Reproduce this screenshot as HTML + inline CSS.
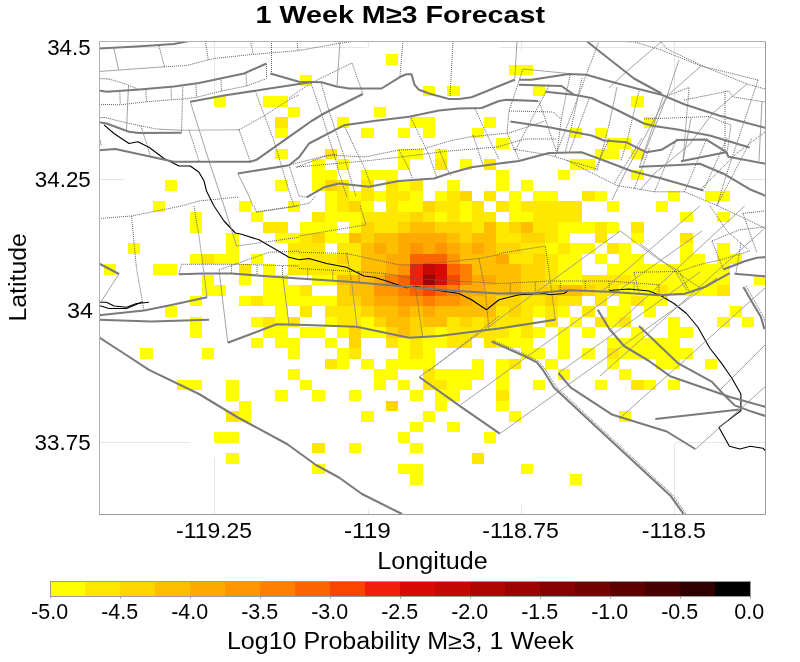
<!DOCTYPE html>
<html><head><meta charset="utf-8"><title>1 Week M&ge;3 Forecast</title>
<style>
html,body{margin:0;padding:0;background:#fff;}
body{width:800px;height:662px;overflow:hidden;font-family:"Liberation Sans",sans-serif;}
svg{display:block;position:absolute;left:0;top:0;}
text{font-family:"Liberation Sans",sans-serif;fill:#000;}
.thick{fill:none;stroke:#7a7a7a;stroke-width:2.05;stroke-linejoin:round;stroke-linecap:butt;}
.thin{fill:none;stroke:#8c8c8c;stroke-width:0.8;}
.dotted{fill:none;stroke:#606060;stroke-width:1;stroke-dasharray:1 1;}
.coast{fill:none;stroke:#000;stroke-width:1.1;stroke-linejoin:round;}
.grid{stroke:#e6e6e6;stroke-width:1;}
</style></head><body>
<svg width="800" height="662" viewBox="0 0 800 662">
<rect x="0" y="0" width="800" height="662" fill="#ffffff"/>
<defs><clipPath id="pc"><rect x="99" y="41" width="667" height="474"/></clipPath></defs>
<g clip-path="url(#pc)">
<g class="grid">
<line x1="99" y1="47.5" x2="766" y2="47.5"/><line x1="99" y1="179.5" x2="766" y2="179.5"/><line x1="99" y1="310.5" x2="766" y2="310.5"/><line x1="99" y1="442.5" x2="766" y2="442.5"/>
<line x1="214.5" y1="41" x2="214.5" y2="515"/><line x1="368.5" y1="41" x2="368.5" y2="515"/><line x1="521.5" y1="41" x2="521.5" y2="515"/><line x1="674.5" y1="41" x2="674.5" y2="515"/>
<ellipse cx="433.1" cy="278" rx="339.5" ry="235" fill="#fff" stroke="none"/>

</g>
<g shape-rendering="crispEdges">
<rect x="385.93" y="54.00" width="12.27" height="10.50" fill="#ffff00"/>
<rect x="508.65" y="64.50" width="24.54" height="10.50" fill="#ffff00"/>
<rect x="300.02" y="75.00" width="12.27" height="10.50" fill="#ffff00"/>
<rect x="422.74" y="85.50" width="12.27" height="10.50" fill="#ffff00"/>
<rect x="447.29" y="85.50" width="12.27" height="10.50" fill="#ffff00"/>
<rect x="533.19" y="85.50" width="12.27" height="10.50" fill="#ffff00"/>
<rect x="214.12" y="96.00" width="12.27" height="10.50" fill="#ffff00"/>
<rect x="263.21" y="96.00" width="24.54" height="10.50" fill="#ffff00"/>
<rect x="631.37" y="96.00" width="12.27" height="10.50" fill="#ffff00"/>
<rect x="287.75" y="106.50" width="12.27" height="10.50" fill="#ffff00"/>
<rect x="373.66" y="106.50" width="12.27" height="10.50" fill="#ffff00"/>
<rect x="275.48" y="117.00" width="12.27" height="10.50" fill="#ffe800"/>
<rect x="336.84" y="117.00" width="12.27" height="10.50" fill="#ffff00"/>
<rect x="410.47" y="117.00" width="24.54" height="10.50" fill="#ffff00"/>
<rect x="484.10" y="117.00" width="12.27" height="10.50" fill="#ffff00"/>
<rect x="643.64" y="117.00" width="12.27" height="10.50" fill="#ffff00"/>
<rect x="275.48" y="127.50" width="12.27" height="10.50" fill="#ffff00"/>
<rect x="361.38" y="127.50" width="12.27" height="10.50" fill="#ffff00"/>
<rect x="398.20" y="127.50" width="12.27" height="10.50" fill="#ffff00"/>
<rect x="422.74" y="127.50" width="12.27" height="10.50" fill="#ffff00"/>
<rect x="471.83" y="127.50" width="12.27" height="10.50" fill="#ffff00"/>
<rect x="570.01" y="127.50" width="12.27" height="10.50" fill="#ffff00"/>
<rect x="594.55" y="127.50" width="12.27" height="10.50" fill="#ffff00"/>
<rect x="496.38" y="138.00" width="12.27" height="10.50" fill="#ffff00"/>
<rect x="606.82" y="138.00" width="24.54" height="10.50" fill="#ffff00"/>
<rect x="275.48" y="148.50" width="12.27" height="10.50" fill="#ffff00"/>
<rect x="324.57" y="148.50" width="12.27" height="10.50" fill="#ffe800"/>
<rect x="398.20" y="148.50" width="24.54" height="10.50" fill="#ffff00"/>
<rect x="435.02" y="148.50" width="12.27" height="10.50" fill="#ffff00"/>
<rect x="594.55" y="148.50" width="24.54" height="10.50" fill="#ffff00"/>
<rect x="631.37" y="148.50" width="12.27" height="10.50" fill="#ffff00"/>
<rect x="312.30" y="159.00" width="12.27" height="10.50" fill="#ffff00"/>
<rect x="336.84" y="159.00" width="12.27" height="10.50" fill="#ffff00"/>
<rect x="398.20" y="159.00" width="12.27" height="10.50" fill="#ffff00"/>
<rect x="435.02" y="159.00" width="12.27" height="10.50" fill="#ffe800"/>
<rect x="459.56" y="159.00" width="12.27" height="10.50" fill="#ffff00"/>
<rect x="484.10" y="159.00" width="12.27" height="10.50" fill="#ffe800"/>
<rect x="570.01" y="159.00" width="24.54" height="10.50" fill="#ffff00"/>
<rect x="312.30" y="169.50" width="24.54" height="10.50" fill="#ffff00"/>
<rect x="361.38" y="169.50" width="36.82" height="10.50" fill="#ffff00"/>
<rect x="496.38" y="169.50" width="12.27" height="10.50" fill="#ffff00"/>
<rect x="557.74" y="169.50" width="12.27" height="10.50" fill="#ffff00"/>
<rect x="631.37" y="169.50" width="12.27" height="10.50" fill="#ffff00"/>
<rect x="165.03" y="180.00" width="12.27" height="10.50" fill="#ffff00"/>
<rect x="275.48" y="180.00" width="12.27" height="10.50" fill="#ffff00"/>
<rect x="312.30" y="180.00" width="12.27" height="10.50" fill="#ffff00"/>
<rect x="324.57" y="180.00" width="12.27" height="10.50" fill="#ffd500"/>
<rect x="336.84" y="180.00" width="12.27" height="10.50" fill="#ffe800"/>
<rect x="361.38" y="180.00" width="12.27" height="10.50" fill="#ffe800"/>
<rect x="385.93" y="180.00" width="12.27" height="10.50" fill="#ffe800"/>
<rect x="398.20" y="180.00" width="12.27" height="10.50" fill="#ffff00"/>
<rect x="410.47" y="180.00" width="12.27" height="10.50" fill="#ffe800"/>
<rect x="447.29" y="180.00" width="12.27" height="10.50" fill="#ffff00"/>
<rect x="496.38" y="180.00" width="12.27" height="10.50" fill="#ffff00"/>
<rect x="520.92" y="180.00" width="12.27" height="10.50" fill="#ffff00"/>
<rect x="324.57" y="190.50" width="12.27" height="10.50" fill="#ffff00"/>
<rect x="336.84" y="190.50" width="12.27" height="10.50" fill="#ffe800"/>
<rect x="349.11" y="190.50" width="12.27" height="10.50" fill="#ffff00"/>
<rect x="361.38" y="190.50" width="12.27" height="10.50" fill="#ffe800"/>
<rect x="373.66" y="190.50" width="12.27" height="10.50" fill="#ffff00"/>
<rect x="385.93" y="190.50" width="24.54" height="10.50" fill="#ffe800"/>
<rect x="410.47" y="190.50" width="12.27" height="10.50" fill="#ffff00"/>
<rect x="435.02" y="190.50" width="12.27" height="10.50" fill="#ffff00"/>
<rect x="447.29" y="190.50" width="12.27" height="10.50" fill="#ffe800"/>
<rect x="459.56" y="190.50" width="12.27" height="10.50" fill="#ffd500"/>
<rect x="484.10" y="190.50" width="12.27" height="10.50" fill="#ffe800"/>
<rect x="508.65" y="190.50" width="12.27" height="10.50" fill="#ffff00"/>
<rect x="533.19" y="190.50" width="24.54" height="10.50" fill="#ffff00"/>
<rect x="582.28" y="190.50" width="12.27" height="10.50" fill="#ffe800"/>
<rect x="594.55" y="190.50" width="12.27" height="10.50" fill="#ffff00"/>
<rect x="668.18" y="190.50" width="12.27" height="10.50" fill="#ffff00"/>
<rect x="705.00" y="190.50" width="24.54" height="10.50" fill="#ffff00"/>
<rect x="152.76" y="201.00" width="12.27" height="10.50" fill="#ffff00"/>
<rect x="238.66" y="201.00" width="12.27" height="10.50" fill="#ffff00"/>
<rect x="287.75" y="201.00" width="12.27" height="10.50" fill="#ffff00"/>
<rect x="324.57" y="201.00" width="12.27" height="10.50" fill="#ffff00"/>
<rect x="336.84" y="201.00" width="12.27" height="10.50" fill="#ffe800"/>
<rect x="349.11" y="201.00" width="12.27" height="10.50" fill="#ffd500"/>
<rect x="361.38" y="201.00" width="12.27" height="10.50" fill="#ffff00"/>
<rect x="385.93" y="201.00" width="12.27" height="10.50" fill="#ffe800"/>
<rect x="398.20" y="201.00" width="24.54" height="10.50" fill="#ffff00"/>
<rect x="422.74" y="201.00" width="12.27" height="10.50" fill="#ffd500"/>
<rect x="435.02" y="201.00" width="24.54" height="10.50" fill="#ffe800"/>
<rect x="459.56" y="201.00" width="12.27" height="10.50" fill="#ffff00"/>
<rect x="471.83" y="201.00" width="12.27" height="10.50" fill="#ffe800"/>
<rect x="496.38" y="201.00" width="12.27" height="10.50" fill="#ffe800"/>
<rect x="508.65" y="201.00" width="12.27" height="10.50" fill="#ffff00"/>
<rect x="520.92" y="201.00" width="61.36" height="10.50" fill="#ffe800"/>
<rect x="606.82" y="201.00" width="12.27" height="10.50" fill="#ffff00"/>
<rect x="655.91" y="201.00" width="12.27" height="10.50" fill="#ffff00"/>
<rect x="189.58" y="211.50" width="12.27" height="10.50" fill="#ffff00"/>
<rect x="250.94" y="211.50" width="12.27" height="10.50" fill="#ffff00"/>
<rect x="312.30" y="211.50" width="12.27" height="10.50" fill="#ffe800"/>
<rect x="324.57" y="211.50" width="36.82" height="10.50" fill="#ffff00"/>
<rect x="361.38" y="211.50" width="49.09" height="10.50" fill="#ffe800"/>
<rect x="410.47" y="211.50" width="12.27" height="10.50" fill="#ffd500"/>
<rect x="422.74" y="211.50" width="12.27" height="10.50" fill="#ffe800"/>
<rect x="435.02" y="211.50" width="12.27" height="10.50" fill="#ffff00"/>
<rect x="447.29" y="211.50" width="12.27" height="10.50" fill="#ffe800"/>
<rect x="459.56" y="211.50" width="12.27" height="10.50" fill="#ffff00"/>
<rect x="471.83" y="211.50" width="24.54" height="10.50" fill="#ffe800"/>
<rect x="508.65" y="211.50" width="24.54" height="10.50" fill="#ffff00"/>
<rect x="533.19" y="211.50" width="49.09" height="10.50" fill="#ffe800"/>
<rect x="680.46" y="211.50" width="12.27" height="10.50" fill="#ffff00"/>
<rect x="717.27" y="211.50" width="12.27" height="10.50" fill="#ffff00"/>
<rect x="189.58" y="222.00" width="12.27" height="10.50" fill="#ffff00"/>
<rect x="263.21" y="222.00" width="24.54" height="10.50" fill="#ffe800"/>
<rect x="300.02" y="222.00" width="36.82" height="10.50" fill="#ffff00"/>
<rect x="349.11" y="222.00" width="12.27" height="10.50" fill="#ffff00"/>
<rect x="361.38" y="222.00" width="12.27" height="10.50" fill="#ffd500"/>
<rect x="373.66" y="222.00" width="24.54" height="10.50" fill="#ffe800"/>
<rect x="398.20" y="222.00" width="12.27" height="10.50" fill="#ffd500"/>
<rect x="410.47" y="222.00" width="24.54" height="10.50" fill="#ffbf00"/>
<rect x="435.02" y="222.00" width="36.82" height="10.50" fill="#ffd500"/>
<rect x="471.83" y="222.00" width="12.27" height="10.50" fill="#ffe800"/>
<rect x="484.10" y="222.00" width="12.27" height="10.50" fill="#ffbf00"/>
<rect x="496.38" y="222.00" width="12.27" height="10.50" fill="#ffe800"/>
<rect x="508.65" y="222.00" width="12.27" height="10.50" fill="#ffd500"/>
<rect x="520.92" y="222.00" width="12.27" height="10.50" fill="#ffbf00"/>
<rect x="533.19" y="222.00" width="24.54" height="10.50" fill="#ffe800"/>
<rect x="557.74" y="222.00" width="36.82" height="10.50" fill="#ffff00"/>
<rect x="594.55" y="222.00" width="12.27" height="10.50" fill="#ffe800"/>
<rect x="606.82" y="222.00" width="12.27" height="10.50" fill="#ffff00"/>
<rect x="631.37" y="222.00" width="12.27" height="10.50" fill="#ffe800"/>
<rect x="226.39" y="232.50" width="12.27" height="10.50" fill="#ffff00"/>
<rect x="275.48" y="232.50" width="24.54" height="10.50" fill="#ffff00"/>
<rect x="300.02" y="232.50" width="12.27" height="10.50" fill="#ffe800"/>
<rect x="312.30" y="232.50" width="12.27" height="10.50" fill="#ffd500"/>
<rect x="324.57" y="232.50" width="24.54" height="10.50" fill="#ffff00"/>
<rect x="349.11" y="232.50" width="12.27" height="10.50" fill="#ffbf00"/>
<rect x="361.38" y="232.50" width="12.27" height="10.50" fill="#ffd500"/>
<rect x="373.66" y="232.50" width="24.54" height="10.50" fill="#ffbf00"/>
<rect x="398.20" y="232.50" width="49.09" height="10.50" fill="#ffaa00"/>
<rect x="447.29" y="232.50" width="12.27" height="10.50" fill="#ffbf00"/>
<rect x="459.56" y="232.50" width="12.27" height="10.50" fill="#ffd500"/>
<rect x="471.83" y="232.50" width="24.54" height="10.50" fill="#ffbf00"/>
<rect x="496.38" y="232.50" width="24.54" height="10.50" fill="#ffe800"/>
<rect x="520.92" y="232.50" width="24.54" height="10.50" fill="#ffd500"/>
<rect x="545.46" y="232.50" width="12.27" height="10.50" fill="#ffe800"/>
<rect x="557.74" y="232.50" width="12.27" height="10.50" fill="#ffff00"/>
<rect x="594.55" y="232.50" width="12.27" height="10.50" fill="#ffe800"/>
<rect x="631.37" y="232.50" width="12.27" height="10.50" fill="#ffff00"/>
<rect x="680.46" y="232.50" width="12.27" height="10.50" fill="#ffe800"/>
<rect x="128.22" y="243.00" width="12.27" height="10.50" fill="#ffff00"/>
<rect x="226.39" y="243.00" width="12.27" height="10.50" fill="#ffff00"/>
<rect x="287.75" y="243.00" width="36.82" height="10.50" fill="#ffe800"/>
<rect x="336.84" y="243.00" width="24.54" height="10.50" fill="#ffe800"/>
<rect x="361.38" y="243.00" width="12.27" height="10.50" fill="#ffbf00"/>
<rect x="373.66" y="243.00" width="12.27" height="10.50" fill="#ffaa00"/>
<rect x="385.93" y="243.00" width="12.27" height="10.50" fill="#ffbf00"/>
<rect x="398.20" y="243.00" width="12.27" height="10.50" fill="#ffaa00"/>
<rect x="410.47" y="243.00" width="12.27" height="10.50" fill="#ff9500"/>
<rect x="422.74" y="243.00" width="12.27" height="10.50" fill="#ffaa00"/>
<rect x="435.02" y="243.00" width="12.27" height="10.50" fill="#ff9500"/>
<rect x="447.29" y="243.00" width="12.27" height="10.50" fill="#ffaa00"/>
<rect x="459.56" y="243.00" width="12.27" height="10.50" fill="#ffbf00"/>
<rect x="471.83" y="243.00" width="12.27" height="10.50" fill="#ffaa00"/>
<rect x="484.10" y="243.00" width="12.27" height="10.50" fill="#ffbf00"/>
<rect x="496.38" y="243.00" width="24.54" height="10.50" fill="#ffd500"/>
<rect x="520.92" y="243.00" width="24.54" height="10.50" fill="#ffe800"/>
<rect x="545.46" y="243.00" width="12.27" height="10.50" fill="#ffff00"/>
<rect x="557.74" y="243.00" width="12.27" height="10.50" fill="#ffe800"/>
<rect x="570.01" y="243.00" width="24.54" height="10.50" fill="#ffff00"/>
<rect x="606.82" y="243.00" width="12.27" height="10.50" fill="#ffe800"/>
<rect x="619.10" y="243.00" width="12.27" height="10.50" fill="#ffff00"/>
<rect x="680.46" y="243.00" width="12.27" height="10.50" fill="#ffff00"/>
<rect x="717.27" y="243.00" width="12.27" height="10.50" fill="#ffff00"/>
<rect x="189.58" y="253.50" width="12.27" height="10.50" fill="#ffff00"/>
<rect x="201.85" y="253.50" width="12.27" height="10.50" fill="#ffe800"/>
<rect x="214.12" y="253.50" width="24.54" height="10.50" fill="#ffff00"/>
<rect x="250.94" y="253.50" width="12.27" height="10.50" fill="#ffff00"/>
<rect x="287.75" y="253.50" width="12.27" height="10.50" fill="#ffff00"/>
<rect x="300.02" y="253.50" width="36.82" height="10.50" fill="#ffe800"/>
<rect x="336.84" y="253.50" width="12.27" height="10.50" fill="#ffd500"/>
<rect x="349.11" y="253.50" width="12.27" height="10.50" fill="#ffe800"/>
<rect x="361.38" y="253.50" width="24.54" height="10.50" fill="#ffbf00"/>
<rect x="385.93" y="253.50" width="24.54" height="10.50" fill="#ffaa00"/>
<rect x="410.47" y="253.50" width="36.82" height="10.50" fill="#fc6400"/>
<rect x="447.29" y="253.50" width="12.27" height="10.50" fill="#ff9500"/>
<rect x="459.56" y="253.50" width="36.82" height="10.50" fill="#ffbf00"/>
<rect x="496.38" y="253.50" width="12.27" height="10.50" fill="#ffaa00"/>
<rect x="508.65" y="253.50" width="24.54" height="10.50" fill="#ffe800"/>
<rect x="533.19" y="253.50" width="12.27" height="10.50" fill="#ffd500"/>
<rect x="545.46" y="253.50" width="12.27" height="10.50" fill="#ffe800"/>
<rect x="557.74" y="253.50" width="24.54" height="10.50" fill="#ffff00"/>
<rect x="594.55" y="253.50" width="12.27" height="10.50" fill="#ffff00"/>
<rect x="619.10" y="253.50" width="24.54" height="10.50" fill="#ffff00"/>
<rect x="680.46" y="253.50" width="24.54" height="10.50" fill="#ffff00"/>
<rect x="717.27" y="253.50" width="24.54" height="10.50" fill="#ffff00"/>
<rect x="103.67" y="264.00" width="12.27" height="10.50" fill="#ffff00"/>
<rect x="152.76" y="264.00" width="24.54" height="10.50" fill="#ffff00"/>
<rect x="238.66" y="264.00" width="12.27" height="10.50" fill="#ffe800"/>
<rect x="263.21" y="264.00" width="12.27" height="10.50" fill="#ffff00"/>
<rect x="287.75" y="264.00" width="73.63" height="10.50" fill="#ffe800"/>
<rect x="361.38" y="264.00" width="24.54" height="10.50" fill="#ffbf00"/>
<rect x="385.93" y="264.00" width="12.27" height="10.50" fill="#ffaa00"/>
<rect x="398.20" y="264.00" width="12.27" height="10.50" fill="#ff9500"/>
<rect x="410.47" y="264.00" width="12.27" height="10.50" fill="#f01e0a"/>
<rect x="422.74" y="264.00" width="12.27" height="10.50" fill="#c40804"/>
<rect x="435.02" y="264.00" width="12.27" height="10.50" fill="#d70a05"/>
<rect x="447.29" y="264.00" width="12.27" height="10.50" fill="#fc6400"/>
<rect x="459.56" y="264.00" width="12.27" height="10.50" fill="#ff8000"/>
<rect x="471.83" y="264.00" width="49.09" height="10.50" fill="#ffbf00"/>
<rect x="520.92" y="264.00" width="24.54" height="10.50" fill="#ffd500"/>
<rect x="545.46" y="264.00" width="12.27" height="10.50" fill="#ffe800"/>
<rect x="557.74" y="264.00" width="24.54" height="10.50" fill="#ffff00"/>
<rect x="606.82" y="264.00" width="122.72" height="10.50" fill="#ffff00"/>
<rect x="201.85" y="274.50" width="12.27" height="10.50" fill="#ffff00"/>
<rect x="238.66" y="274.50" width="12.27" height="10.50" fill="#ffff00"/>
<rect x="263.21" y="274.50" width="24.54" height="10.50" fill="#ffff00"/>
<rect x="312.30" y="274.50" width="24.54" height="10.50" fill="#ffff00"/>
<rect x="336.84" y="274.50" width="36.82" height="10.50" fill="#ffbf00"/>
<rect x="373.66" y="274.50" width="12.27" height="10.50" fill="#ffaa00"/>
<rect x="385.93" y="274.50" width="12.27" height="10.50" fill="#ff8000"/>
<rect x="398.20" y="274.50" width="12.27" height="10.50" fill="#fc6400"/>
<rect x="410.47" y="274.50" width="12.27" height="10.50" fill="#f01e0a"/>
<rect x="422.74" y="274.50" width="12.27" height="10.50" fill="#9c0402"/>
<rect x="435.02" y="274.50" width="12.27" height="10.50" fill="#d70a05"/>
<rect x="447.29" y="274.50" width="12.27" height="10.50" fill="#f84600"/>
<rect x="459.56" y="274.50" width="12.27" height="10.50" fill="#ff8000"/>
<rect x="471.83" y="274.50" width="24.54" height="10.50" fill="#ffaa00"/>
<rect x="496.38" y="274.50" width="24.54" height="10.50" fill="#ffbf00"/>
<rect x="520.92" y="274.50" width="24.54" height="10.50" fill="#ffd500"/>
<rect x="545.46" y="274.50" width="12.27" height="10.50" fill="#ffe800"/>
<rect x="557.74" y="274.50" width="24.54" height="10.50" fill="#ffff00"/>
<rect x="582.28" y="274.50" width="49.09" height="10.50" fill="#ffe800"/>
<rect x="631.37" y="274.50" width="98.18" height="10.50" fill="#ffff00"/>
<rect x="754.09" y="274.50" width="12.27" height="10.50" fill="#ffff00"/>
<rect x="201.85" y="285.00" width="24.54" height="10.50" fill="#ffff00"/>
<rect x="263.21" y="285.00" width="36.82" height="10.50" fill="#ffff00"/>
<rect x="300.02" y="285.00" width="12.27" height="10.50" fill="#ffe800"/>
<rect x="336.84" y="285.00" width="12.27" height="10.50" fill="#ffd500"/>
<rect x="349.11" y="285.00" width="24.54" height="10.50" fill="#ffbf00"/>
<rect x="373.66" y="285.00" width="24.54" height="10.50" fill="#ff9500"/>
<rect x="398.20" y="285.00" width="12.27" height="10.50" fill="#ff8000"/>
<rect x="410.47" y="285.00" width="12.27" height="10.50" fill="#fc6400"/>
<rect x="422.74" y="285.00" width="12.27" height="10.50" fill="#f84600"/>
<rect x="435.02" y="285.00" width="12.27" height="10.50" fill="#fc6400"/>
<rect x="447.29" y="285.00" width="12.27" height="10.50" fill="#ff8000"/>
<rect x="459.56" y="285.00" width="24.54" height="10.50" fill="#ffaa00"/>
<rect x="484.10" y="285.00" width="36.82" height="10.50" fill="#ffbf00"/>
<rect x="520.92" y="285.00" width="36.82" height="10.50" fill="#ffd500"/>
<rect x="557.74" y="285.00" width="24.54" height="10.50" fill="#ffbf00"/>
<rect x="582.28" y="285.00" width="12.27" height="10.50" fill="#ffd500"/>
<rect x="594.55" y="285.00" width="24.54" height="10.50" fill="#ffe800"/>
<rect x="619.10" y="285.00" width="36.82" height="10.50" fill="#ffff00"/>
<rect x="655.91" y="285.00" width="12.27" height="10.50" fill="#ffe800"/>
<rect x="668.18" y="285.00" width="49.09" height="10.50" fill="#ffff00"/>
<rect x="717.27" y="285.00" width="12.27" height="10.50" fill="#ffe800"/>
<rect x="189.58" y="295.50" width="12.27" height="10.50" fill="#ffff00"/>
<rect x="238.66" y="295.50" width="12.27" height="10.50" fill="#ffff00"/>
<rect x="250.94" y="295.50" width="12.27" height="10.50" fill="#ffe800"/>
<rect x="263.21" y="295.50" width="73.63" height="10.50" fill="#ffff00"/>
<rect x="336.84" y="295.50" width="24.54" height="10.50" fill="#ffd500"/>
<rect x="361.38" y="295.50" width="12.27" height="10.50" fill="#ffbf00"/>
<rect x="373.66" y="295.50" width="24.54" height="10.50" fill="#ffaa00"/>
<rect x="398.20" y="295.50" width="24.54" height="10.50" fill="#ff9500"/>
<rect x="422.74" y="295.50" width="12.27" height="10.50" fill="#ff8000"/>
<rect x="435.02" y="295.50" width="24.54" height="10.50" fill="#ff9500"/>
<rect x="459.56" y="295.50" width="12.27" height="10.50" fill="#ffaa00"/>
<rect x="471.83" y="295.50" width="24.54" height="10.50" fill="#ffbf00"/>
<rect x="496.38" y="295.50" width="24.54" height="10.50" fill="#ffd500"/>
<rect x="520.92" y="295.50" width="24.54" height="10.50" fill="#ffe800"/>
<rect x="545.46" y="295.50" width="12.27" height="10.50" fill="#ffd500"/>
<rect x="557.74" y="295.50" width="24.54" height="10.50" fill="#ffe800"/>
<rect x="594.55" y="295.50" width="12.27" height="10.50" fill="#ffe800"/>
<rect x="619.10" y="295.50" width="12.27" height="10.50" fill="#ffff00"/>
<rect x="631.37" y="295.50" width="12.27" height="10.50" fill="#ffe800"/>
<rect x="643.64" y="295.50" width="24.54" height="10.50" fill="#ffff00"/>
<rect x="165.03" y="306.00" width="12.27" height="10.50" fill="#ffff00"/>
<rect x="275.48" y="306.00" width="12.27" height="10.50" fill="#ffff00"/>
<rect x="300.02" y="306.00" width="12.27" height="10.50" fill="#ffe800"/>
<rect x="324.57" y="306.00" width="36.82" height="10.50" fill="#ffe800"/>
<rect x="361.38" y="306.00" width="12.27" height="10.50" fill="#ffd500"/>
<rect x="373.66" y="306.00" width="24.54" height="10.50" fill="#ffbf00"/>
<rect x="398.20" y="306.00" width="12.27" height="10.50" fill="#ffaa00"/>
<rect x="410.47" y="306.00" width="12.27" height="10.50" fill="#ffbf00"/>
<rect x="422.74" y="306.00" width="12.27" height="10.50" fill="#ffaa00"/>
<rect x="435.02" y="306.00" width="61.36" height="10.50" fill="#ffbf00"/>
<rect x="496.38" y="306.00" width="12.27" height="10.50" fill="#ffe800"/>
<rect x="508.65" y="306.00" width="12.27" height="10.50" fill="#ffd500"/>
<rect x="520.92" y="306.00" width="12.27" height="10.50" fill="#ffe800"/>
<rect x="533.19" y="306.00" width="12.27" height="10.50" fill="#ffff00"/>
<rect x="545.46" y="306.00" width="12.27" height="10.50" fill="#ffe800"/>
<rect x="557.74" y="306.00" width="12.27" height="10.50" fill="#ffff00"/>
<rect x="582.28" y="306.00" width="12.27" height="10.50" fill="#ffe800"/>
<rect x="606.82" y="306.00" width="24.54" height="10.50" fill="#ffff00"/>
<rect x="643.64" y="306.00" width="12.27" height="10.50" fill="#ffff00"/>
<rect x="729.54" y="306.00" width="12.27" height="10.50" fill="#ffff00"/>
<rect x="189.58" y="316.50" width="12.27" height="10.50" fill="#ffff00"/>
<rect x="250.94" y="316.50" width="12.27" height="10.50" fill="#ffff00"/>
<rect x="263.21" y="316.50" width="12.27" height="10.50" fill="#ffe800"/>
<rect x="275.48" y="316.50" width="12.27" height="10.50" fill="#ffff00"/>
<rect x="287.75" y="316.50" width="12.27" height="10.50" fill="#ffe800"/>
<rect x="324.57" y="316.50" width="12.27" height="10.50" fill="#ffff00"/>
<rect x="336.84" y="316.50" width="24.54" height="10.50" fill="#ffe800"/>
<rect x="361.38" y="316.50" width="12.27" height="10.50" fill="#ffff00"/>
<rect x="373.66" y="316.50" width="12.27" height="10.50" fill="#ffd500"/>
<rect x="385.93" y="316.50" width="24.54" height="10.50" fill="#ffbf00"/>
<rect x="410.47" y="316.50" width="12.27" height="10.50" fill="#ffd500"/>
<rect x="422.74" y="316.50" width="24.54" height="10.50" fill="#ffbf00"/>
<rect x="447.29" y="316.50" width="12.27" height="10.50" fill="#ffe800"/>
<rect x="459.56" y="316.50" width="12.27" height="10.50" fill="#ffd500"/>
<rect x="471.83" y="316.50" width="12.27" height="10.50" fill="#ffe800"/>
<rect x="484.10" y="316.50" width="12.27" height="10.50" fill="#ffd500"/>
<rect x="496.38" y="316.50" width="36.82" height="10.50" fill="#ffe800"/>
<rect x="545.46" y="316.50" width="12.27" height="10.50" fill="#ffe800"/>
<rect x="570.01" y="316.50" width="12.27" height="10.50" fill="#ffff00"/>
<rect x="594.55" y="316.50" width="12.27" height="10.50" fill="#ffe800"/>
<rect x="606.82" y="316.50" width="12.27" height="10.50" fill="#ffff00"/>
<rect x="619.10" y="316.50" width="12.27" height="10.50" fill="#ffe800"/>
<rect x="668.18" y="316.50" width="12.27" height="10.50" fill="#ffff00"/>
<rect x="717.27" y="316.50" width="12.27" height="10.50" fill="#ffff00"/>
<rect x="741.82" y="316.50" width="12.27" height="10.50" fill="#ffff00"/>
<rect x="189.58" y="327.00" width="12.27" height="10.50" fill="#ffff00"/>
<rect x="263.21" y="327.00" width="24.54" height="10.50" fill="#ffff00"/>
<rect x="300.02" y="327.00" width="24.54" height="10.50" fill="#ffff00"/>
<rect x="336.84" y="327.00" width="12.27" height="10.50" fill="#ffff00"/>
<rect x="349.11" y="327.00" width="12.27" height="10.50" fill="#ffd500"/>
<rect x="361.38" y="327.00" width="24.54" height="10.50" fill="#ffff00"/>
<rect x="385.93" y="327.00" width="12.27" height="10.50" fill="#ffd500"/>
<rect x="398.20" y="327.00" width="12.27" height="10.50" fill="#ffbf00"/>
<rect x="410.47" y="327.00" width="12.27" height="10.50" fill="#ffd500"/>
<rect x="422.74" y="327.00" width="12.27" height="10.50" fill="#ffe800"/>
<rect x="435.02" y="327.00" width="12.27" height="10.50" fill="#ffff00"/>
<rect x="447.29" y="327.00" width="61.36" height="10.50" fill="#ffe800"/>
<rect x="508.65" y="327.00" width="12.27" height="10.50" fill="#ffff00"/>
<rect x="520.92" y="327.00" width="12.27" height="10.50" fill="#ffe800"/>
<rect x="533.19" y="327.00" width="12.27" height="10.50" fill="#ffff00"/>
<rect x="557.74" y="327.00" width="12.27" height="10.50" fill="#ffff00"/>
<rect x="582.28" y="327.00" width="12.27" height="10.50" fill="#ffff00"/>
<rect x="631.37" y="327.00" width="12.27" height="10.50" fill="#ffff00"/>
<rect x="668.18" y="327.00" width="24.54" height="10.50" fill="#ffff00"/>
<rect x="250.94" y="337.50" width="12.27" height="10.50" fill="#ffff00"/>
<rect x="275.48" y="337.50" width="24.54" height="10.50" fill="#ffff00"/>
<rect x="324.57" y="337.50" width="12.27" height="10.50" fill="#ffff00"/>
<rect x="349.11" y="337.50" width="12.27" height="10.50" fill="#ffd500"/>
<rect x="385.93" y="337.50" width="12.27" height="10.50" fill="#ffe800"/>
<rect x="398.20" y="337.50" width="12.27" height="10.50" fill="#ffff00"/>
<rect x="410.47" y="337.50" width="12.27" height="10.50" fill="#ffe800"/>
<rect x="422.74" y="337.50" width="24.54" height="10.50" fill="#ffff00"/>
<rect x="447.29" y="337.50" width="24.54" height="10.50" fill="#ffe800"/>
<rect x="484.10" y="337.50" width="12.27" height="10.50" fill="#ffe800"/>
<rect x="496.38" y="337.50" width="36.82" height="10.50" fill="#ffff00"/>
<rect x="557.74" y="337.50" width="12.27" height="10.50" fill="#ffff00"/>
<rect x="606.82" y="337.50" width="73.63" height="10.50" fill="#ffff00"/>
<rect x="140.49" y="348.00" width="12.27" height="10.50" fill="#ffff00"/>
<rect x="201.85" y="348.00" width="12.27" height="10.50" fill="#ffff00"/>
<rect x="287.75" y="348.00" width="12.27" height="10.50" fill="#ffff00"/>
<rect x="336.84" y="348.00" width="12.27" height="10.50" fill="#ffff00"/>
<rect x="349.11" y="348.00" width="12.27" height="10.50" fill="#ffe800"/>
<rect x="398.20" y="348.00" width="12.27" height="10.50" fill="#ffff00"/>
<rect x="410.47" y="348.00" width="12.27" height="10.50" fill="#ffe800"/>
<rect x="422.74" y="348.00" width="12.27" height="10.50" fill="#ffff00"/>
<rect x="520.92" y="348.00" width="24.54" height="10.50" fill="#ffff00"/>
<rect x="557.74" y="348.00" width="12.27" height="10.50" fill="#ffff00"/>
<rect x="582.28" y="348.00" width="12.27" height="10.50" fill="#ffff00"/>
<rect x="606.82" y="348.00" width="12.27" height="10.50" fill="#ffe800"/>
<rect x="619.10" y="348.00" width="73.63" height="10.50" fill="#ffff00"/>
<rect x="324.57" y="358.50" width="12.27" height="10.50" fill="#ffe800"/>
<rect x="336.84" y="358.50" width="12.27" height="10.50" fill="#ffff00"/>
<rect x="361.38" y="358.50" width="12.27" height="10.50" fill="#ffff00"/>
<rect x="385.93" y="358.50" width="49.09" height="10.50" fill="#ffff00"/>
<rect x="471.83" y="358.50" width="12.27" height="10.50" fill="#ffff00"/>
<rect x="496.38" y="358.50" width="12.27" height="10.50" fill="#ffff00"/>
<rect x="508.65" y="358.50" width="12.27" height="10.50" fill="#ffe800"/>
<rect x="545.46" y="358.50" width="12.27" height="10.50" fill="#ffff00"/>
<rect x="606.82" y="358.50" width="12.27" height="10.50" fill="#ffff00"/>
<rect x="655.91" y="358.50" width="24.54" height="10.50" fill="#ffff00"/>
<rect x="705.00" y="358.50" width="12.27" height="10.50" fill="#ffff00"/>
<rect x="287.75" y="369.00" width="12.27" height="10.50" fill="#ffff00"/>
<rect x="373.66" y="369.00" width="24.54" height="10.50" fill="#ffff00"/>
<rect x="422.74" y="369.00" width="12.27" height="10.50" fill="#ffe800"/>
<rect x="435.02" y="369.00" width="49.09" height="10.50" fill="#ffff00"/>
<rect x="496.38" y="369.00" width="12.27" height="10.50" fill="#ffff00"/>
<rect x="557.74" y="369.00" width="12.27" height="10.50" fill="#ffff00"/>
<rect x="619.10" y="369.00" width="12.27" height="10.50" fill="#ffff00"/>
<rect x="177.30" y="379.50" width="24.54" height="10.50" fill="#ffff00"/>
<rect x="226.39" y="379.50" width="12.27" height="10.50" fill="#ffff00"/>
<rect x="300.02" y="379.50" width="12.27" height="10.50" fill="#ffff00"/>
<rect x="373.66" y="379.50" width="12.27" height="10.50" fill="#ffff00"/>
<rect x="398.20" y="379.50" width="12.27" height="10.50" fill="#ffff00"/>
<rect x="422.74" y="379.50" width="24.54" height="10.50" fill="#ffe800"/>
<rect x="447.29" y="379.50" width="24.54" height="10.50" fill="#ffff00"/>
<rect x="496.38" y="379.50" width="12.27" height="10.50" fill="#ffff00"/>
<rect x="533.19" y="379.50" width="12.27" height="10.50" fill="#ffff00"/>
<rect x="594.55" y="379.50" width="12.27" height="10.50" fill="#ffff00"/>
<rect x="631.37" y="379.50" width="12.27" height="10.50" fill="#ffe800"/>
<rect x="643.64" y="379.50" width="12.27" height="10.50" fill="#ffff00"/>
<rect x="668.18" y="379.50" width="12.27" height="10.50" fill="#ffff00"/>
<rect x="226.39" y="390.00" width="12.27" height="10.50" fill="#ffff00"/>
<rect x="275.48" y="390.00" width="12.27" height="10.50" fill="#ffff00"/>
<rect x="312.30" y="390.00" width="12.27" height="10.50" fill="#ffff00"/>
<rect x="349.11" y="390.00" width="12.27" height="10.50" fill="#ffff00"/>
<rect x="410.47" y="390.00" width="12.27" height="10.50" fill="#ffff00"/>
<rect x="435.02" y="390.00" width="24.54" height="10.50" fill="#ffff00"/>
<rect x="496.38" y="390.00" width="12.27" height="10.50" fill="#ffe800"/>
<rect x="238.66" y="400.50" width="12.27" height="10.50" fill="#ffff00"/>
<rect x="385.93" y="400.50" width="12.27" height="10.50" fill="#ffd500"/>
<rect x="435.02" y="400.50" width="12.27" height="10.50" fill="#ffff00"/>
<rect x="496.38" y="400.50" width="12.27" height="10.50" fill="#ffff00"/>
<rect x="226.39" y="411.00" width="12.27" height="10.50" fill="#ffe800"/>
<rect x="238.66" y="411.00" width="12.27" height="10.50" fill="#ffff00"/>
<rect x="361.38" y="411.00" width="12.27" height="10.50" fill="#ffff00"/>
<rect x="422.74" y="411.00" width="12.27" height="10.50" fill="#ffff00"/>
<rect x="508.65" y="411.00" width="12.27" height="10.50" fill="#ffff00"/>
<rect x="619.10" y="411.00" width="12.27" height="10.50" fill="#ffff00"/>
<rect x="410.47" y="421.50" width="12.27" height="10.50" fill="#ffff00"/>
<rect x="447.29" y="421.50" width="12.27" height="10.50" fill="#ffff00"/>
<rect x="214.12" y="432.00" width="24.54" height="10.50" fill="#ffff00"/>
<rect x="398.20" y="432.00" width="12.27" height="10.50" fill="#ffff00"/>
<rect x="484.10" y="432.00" width="12.27" height="10.50" fill="#ffff00"/>
<rect x="312.30" y="442.50" width="12.27" height="10.50" fill="#ffe800"/>
<rect x="349.11" y="442.50" width="12.27" height="10.50" fill="#ffff00"/>
<rect x="410.47" y="442.50" width="12.27" height="10.50" fill="#ffff00"/>
<rect x="226.39" y="453.00" width="12.27" height="10.50" fill="#ffff00"/>
<rect x="471.83" y="453.00" width="12.27" height="10.50" fill="#ffe800"/>
<rect x="312.30" y="463.50" width="12.27" height="10.50" fill="#ffff00"/>
<rect x="398.20" y="463.50" width="24.54" height="10.50" fill="#ffff00"/>
<rect x="520.92" y="463.50" width="12.27" height="10.50" fill="#ffff00"/>
<rect x="410.47" y="474.00" width="12.27" height="10.50" fill="#ffff00"/>
<rect x="570.01" y="474.00" width="12.27" height="10.50" fill="#ffff00"/>
</g>
<polyline class="coast" points="104.0,124.8 114.0,133.5 129.0,143.5 137.8,141.8 149.0,147.3 164.0,158.5 179.0,166.0 190.3,166.0 199.0,172.3 204.0,181.0 206.5,191.0 214.0,206.0 224.0,221.0 235.3,233.0 241.5,234.3 259.0,239.8 274.0,248.5 289.0,257.3 299.0,259.8 309.0,258.5 326.5,263.5 346.5,267.3 364.0,276.0 374.0,277.3 386.5,281.0 406.5,287.8 416.5,286.5 434.0,289.8 459.0,293.5 471.5,299.8 486.5,309.8 499.0,299.8 519.0,294.8 544.0,293.5 550.3,294.8 564.0,293.5 567.8,291.0"/>
<polyline class="coast" points="609.0,290.5 629.0,289.0 649.0,291.0 661.5,296.0 674.0,303.5 686.5,313.5 697.8,327.0 709.7,348.0 720.9,362.4 731.6,377.7 740.9,393.9 740.9,410.8 734.7,415.4 719.0,427.4 729.4,446.2 739.9,449.0 750.3,446.2 762.9,448.2 767.0,452.4"/>
<polyline class="coast" points="99.0,302.3 106.5,302.3 114.0,306.0 126.5,307.3 136.5,303.5 149.0,302.3"/>
<polyline class="coast" points="99.0,305.5 109.0,308.5 126.5,308.5 142.8,301.8"/>
<polyline class="dotted" points="159.0,46.0 164.5,66.8"/>
<polyline class="dotted" points="164.0,66.8 186.5,65.5 214.0,58.5 249.0,54.8 299.0,50.5 339.0,43.4 355.0,41.0"/>
<polyline class="dotted" points="205.3,41.0 208.3,59.8"/>
<polyline class="dotted" points="250.3,41.0 253.3,54.0"/>
<polyline class="dotted" points="271.5,41.0 271.5,73.5"/>
<polyline class="dotted" points="109.0,79.0 124.0,83.5 136.5,88.5"/>
<polyline class="dotted" points="99.0,104.3 120.3,104.8 146.5,101.8 171.5,99.8 182.8,99.0 196.5,97.3 221.5,91.0 246.5,86.0 266.5,78.5 266.5,63.5"/>
<polyline class="dotted" points="119.8,92.3 120.3,104.3"/>
<polyline class="dotted" points="146.0,90.3 146.5,101.8"/>
<polyline class="dotted" points="171.0,87.3 171.5,99.8"/>
<polyline class="dotted" points="196.0,84.8 196.5,97.3"/>
<polyline class="dotted" points="221.0,79.8 221.5,91.0"/>
<polyline class="dotted" points="246.0,73.5 246.5,86.0"/>
<polyline class="dotted" points="182.8,87.3 181.5,132.8"/>
<polyline class="dotted" points="104.0,117.3 124.0,122.3 156.5,129.0"/>
<polyline class="dotted" points="181.5,130.3 239.0,129.8"/>
<polyline class="dotted" points="239.0,129.8 264.0,116.0 289.0,99.8 299.0,94.8"/>
<polyline class="dotted" points="141.0,126.0 150.3,156.0"/>
<polyline class="dotted" points="189.0,129.8 199.0,161.0"/>
<polyline class="dotted" points="239.0,129.8 250.3,161.8"/>
<polyline class="dotted" points="255.3,91.0 274.0,141.0 289.0,191.0 294.0,206.0"/>
<polyline class="dotted" points="99.0,136.0 101.5,146.0"/>
<polyline class="dotted" points="99.0,218.5 131.5,216.0 181.5,206.0 199.0,201.0 238.0,197.0"/>
<polyline class="dotted" points="131.5,216.0 136.5,268.5 144.0,310.5"/>
<polyline class="dotted" points="194.0,206.0 199.0,236.0 204.0,273.5"/>
<polyline class="dotted" points="179.0,274.3 181.5,264.3 239.0,264.3 299.0,266.0"/>
<polyline class="dotted" points="219.0,269.8 269.0,252.3 299.0,251.0"/>
<polyline class="dotted" points="236.5,246.0 299.0,237.3"/>
<polyline class="dotted" points="231.5,264.3 231.5,273.5"/>
<polyline class="dotted" points="257.0,265.0 257.0,275.5"/>
<polyline class="dotted" points="282.5,266.0 282.5,277.3"/>
<polyline class="dotted" points="254.0,206.0 256.5,212.3 299.0,206.0"/>
<polyline class="dotted" points="299.0,252.3 346.5,253.5 399.0,264.8 411.5,265.3 479.0,258.5 499.0,254.8"/>
<polyline class="dotted" points="299.0,268.5 334.0,270.3 385.3,273.5 412.8,278.5 435.3,279.8 499.0,283.5 550.3,281.0 609.0,281.0 659.0,284.8"/>
<polyline class="dotted" points="346.5,253.5 351.5,281.0"/>
<polyline class="dotted" points="411.5,265.3 415.3,286.0 422.8,337.8"/>
<polyline class="dotted" points="479.0,258.5 485.3,291.0 489.0,329.8"/>
<polyline class="dotted" points="307.8,268.5 307.8,278.5"/>
<polyline class="dotted" points="332.8,270.3 332.8,280.5"/>
<polyline class="dotted" points="359.0,271.5 359.0,282.3"/>
<polyline class="dotted" points="385.3,273.5 385.3,284.5"/>
<polyline class="dotted" points="435.3,279.8 435.3,289.0"/>
<polyline class="dotted" points="459.0,281.0 459.0,291.3"/>
<polyline class="dotted" points="360.3,206.0 366.0,224.8 299.0,236.0"/>
<polyline class="dotted" points="499.0,316.0 429.0,371.0"/>
<polyline class="dotted" points="499.0,253.5 545.3,246.0 550.3,281.0 555.3,319.8"/>
<polyline class="dotted" points="510.3,283.5 510.3,293.0"/>
<polyline class="dotted" points="535.3,282.3 535.3,292.5"/>
<polyline class="dotted" points="560.3,281.0 560.3,290.5"/>
<polyline class="dotted" points="585.3,281.0 585.3,291.0"/>
<polyline class="dotted" points="609.0,281.0 609.0,291.0"/>
<polyline class="dotted" points="634.0,282.3 634.0,292.3"/>
<polyline class="dotted" points="659.0,284.8 659.0,295.0"/>
<polyline class="dotted" points="634.0,272.3 679.0,271.5 699.0,264.8 722.0,259.5 749.6,251.0"/>
<polyline class="dotted" points="634.0,272.3 639.0,293.0"/>
<polyline class="dotted" points="679.0,271.0 689.0,291.0"/>
<polyline class="dotted" points="675.0,271.0 700.0,288.0"/>
<polyline class="dotted" points="712.0,241.0 739.6,229.7 764.5,227.0"/>
<polyline class="dotted" points="712.0,241.0 723.4,269.5"/>
<polyline class="dotted" points="743.0,213.5 764.5,211.0"/>
<polyline class="dotted" points="743.0,213.5 757.0,253.0"/>
<polyline class="dotted" points="710.0,206.0 727.0,231.0 749.6,251.0"/>
<polyline class="dotted" points="741.0,243.0 736.0,273.0"/>
<polyline class="dotted" points="567.0,160.5 617.0,185.5 654.5,191.8 684.5,191.8 717.0,205.5 767.0,229.0"/>
<polyline class="dotted" points="594.5,170.5 609.5,138.0"/>
<polyline class="dotted" points="614.5,183.0 642.0,138.0"/>
<polyline class="dotted" points="634.5,188.0 649.5,148.0"/>
<polyline class="dotted" points="654.5,191.8 677.0,138.0"/>
<polyline class="dotted" points="684.5,191.8 707.0,138.0"/>
<polyline class="dotted" points="704.5,188.0 727.0,138.0"/>
<polyline class="dotted" points="717.0,205.5 752.0,138.0"/>
<polyline class="dotted" points="256.3,211.8 287.8,207.2 309.3,203.3 315.5,195.7"/>
<polyline class="dotted" points="296.3,167.2 324.7,156.4 337.0,154.0"/>
<polyline class="dotted" points="493.5,340.6 523.5,353.7 538.9,361.4 545.0,369.0 556.1,386.7 614.5,441.0 673.0,495.3 686.0,514.0"/>
<polyline class="dotted" points="746.0,286.0 754.5,301.0 763.0,316.0 766.0,325.0"/>
<polyline class="dotted" points="297.0,41.0 298.0,50.0"/>
<polyline class="dotted" points="289.0,98.0 311.0,83.0 352.0,63.0 363.0,94.0"/>
<polyline class="dotted" points="311.0,83.0 321.0,112.0 336.0,161.0 339.0,173.0 347.0,197.0"/>
<polyline class="dotted" points="321.0,82.4 329.0,111.0 343.0,153.0 349.0,173.0 356.0,197.0"/>
<polyline class="dotted" points="403.0,41.0 400.0,76.0"/>
<polyline class="dotted" points="344.0,125.0 359.0,157.0 365.0,169.0 371.0,186.0"/>
<polyline class="dotted" points="411.0,118.0 429.0,155.0 437.0,178.0"/>
<polyline class="dotted" points="289.0,165.0 329.0,155.0 365.0,157.0 399.0,150.0 423.0,149.0 449.0,141.0 469.0,137.0 509.0,133.0 545.0,121.0"/>
<polyline class="dotted" points="297.0,167.0 365.0,161.0 401.0,157.0 449.0,151.0 497.0,147.0 525.0,139.0 557.0,139.0"/>
<polyline class="dotted" points="399.0,150.0 409.0,169.0 413.0,180.0"/>
<polyline class="dotted" points="439.0,149.0 447.0,169.0 451.0,176.0"/>
<polyline class="dotted" points="289.0,165.0 299.0,196.0 306.5,197.3"/>
<polyline class="dotted" points="453.0,41.0 450.0,97.0"/>
<polyline class="dotted" points="523.0,69.0 509.0,111.0 507.0,133.0 519.0,159.0"/>
<polyline class="dotted" points="475.0,109.0 493.0,147.0 499.0,159.0"/>
<polyline class="dotted" points="473.0,135.0 483.0,165.0"/>
<polyline class="dotted" points="509.0,111.0 553.0,112.0 561.0,119.0"/>
<polyline class="dotted" points="599.0,41.0 569.0,121.0 555.0,157.0"/>
<polyline class="dotted" points="549.0,86.0 515.0,151.0"/>
<polyline class="dotted" points="570.0,75.0 561.0,121.0 557.0,153.0"/>
<polyline class="dotted" points="582.0,78.0 571.0,129.0 565.0,153.0"/>
<polyline class="dotted" points="589.0,99.0 569.0,153.0"/>
<polyline class="dotted" points="539.0,101.0 557.0,153.0"/>
<polyline class="dotted" points="513.0,149.0 549.0,155.0 569.0,161.0 597.0,169.0"/>
<polyline class="dotted" points="609.0,125.0 597.0,171.0"/>
<polyline class="dotted" points="609.0,41.0 635.0,42.0 661.0,50.0 701.0,66.0 758.0,80.0"/>
<polyline class="dotted" points="661.0,42.0 667.0,49.0 705.0,67.0 747.0,84.0 765.0,89.0"/>
<polyline class="dotted" points="758.0,80.0 727.0,173.0 717.0,206.0"/>
<polyline class="dotted" points="667.0,96.0 689.0,87.4 683.0,161.0"/>
<polyline class="dotted" points="684.0,100.0 729.0,91.0 733.0,97.0 765.0,102.0"/>
<polyline class="dotted" points="725.0,91.0 725.0,152.0"/>
<polyline class="dotted" points="644.0,119.0 709.0,116.6 731.0,125.0 727.0,153.0"/>
<polyline class="dotted" points="765.0,132.0 737.0,153.0 717.0,173.0 700.0,190.0"/>
<polyline class="dotted" points="639.0,91.0 627.0,141.0 621.0,161.0"/>
<polyline class="thin" points="114.0,48.5 118.5,69.8"/>
<polyline class="thin" points="99.0,71.5 164.0,66.8"/>
<polyline class="thin" points="99.0,78.5 109.0,79.0"/>
<polyline class="thin" points="128.5,86.0 126.5,129.8"/>
<polyline class="thin" points="99.0,118.0 104.0,117.3"/>
<polyline class="thin" points="156.5,129.0 181.5,130.3"/>
<polyline class="thin" points="190.3,101.8 209.0,161.0 224.0,206.0"/>
<polyline class="thin" points="237.8,173.5 249.0,196.0 252.8,206.0"/>
<polyline class="thin" points="119.0,274.0 101.5,301.0"/>
<polyline class="thin" points="204.0,273.5 207.0,297.3"/>
<polyline class="thin" points="219.0,269.8 227.8,342.8"/>
<polyline class="thin" points="224.0,206.0 236.5,246.0"/>
<polyline class="thin" points="282.8,277.3 289.0,324.3"/>
<polyline class="thin" points="351.5,281.0 357.0,326.8"/>
<polyline class="thin" points="620.3,231.0 659.0,259.8 679.0,271.0"/>
<polyline class="thin" points="640.0,243.4 675.0,270.8 687.0,290.7"/>
<polyline class="thin" points="419.3,377.0 620.3,231.0"/>
<polyline class="thin" points="461.0,404.5 643.0,273.0 702.0,231.0"/>
<polyline class="thin" points="499.8,433.6 700.2,290.5 717.0,278.0"/>
<polyline class="thin" points="558.4,373.0 640.0,315.0 700.0,272.0"/>
<polyline class="thin" points="699.8,206.0 640.0,258.3 600.0,293.0"/>
<polyline class="thin" points="744.6,206.0 640.0,303.0 610.0,330.0"/>
<polyline class="thin" points="764.5,228.4 640.0,340.5 600.0,376.0"/>
<polyline class="thin" points="766.0,287.0 707.0,340.0 619.0,419.0"/>
<polyline class="thin" points="767.0,343.0 720.0,390.0"/>
<polyline class="thin" points="767.0,385.0 695.0,449.6"/>
<polyline class="thin" points="340.0,41.0 337.0,86.0"/>
<polyline class="thin" points="517.0,41.0 514.6,81.6"/>
<polyline class="thin" points="523.0,69.0 569.0,73.6"/>
<polyline class="thin" points="661.0,42.0 627.0,71.0 609.0,88.0"/>
<polyline class="thin" points="679.0,60.0 667.0,96.0 625.0,173.0 612.0,200.0"/>
<polyline class="thin" points="701.0,66.0 667.0,96.0 640.0,165.0"/>
<polyline class="thin" points="747.0,84.0 713.0,113.0 689.0,145.0 655.0,173.0 640.0,190.0"/>
<polyline class="thin" points="762.0,101.0 759.0,161.0"/>
<polyline class="thin" points="617.0,87.0 609.0,125.0"/>
<polyline class="thin" points="663.0,97.0 641.0,161.0"/>
<polyline class="thin" points="691.0,118.0 683.0,161.0"/>
<polyline class="thick" points="99.0,48.5 136.5,46.5 174.0,44.0 189.0,41.0"/>
<polyline class="thick" points="99.0,90.5 106.5,91.8 136.5,89.8 174.0,86.5 199.0,83.0 244.0,73.5 266.5,63.5"/>
<polyline class="thick" points="190.3,101.8 224.0,95.5 261.5,89.8 299.0,84.0 309.0,82.5"/>
<polyline class="thick" points="270.3,73.5 299.0,81.8 321.5,82.3 336.5,86.5 349.0,88.5 381.5,88.5 400.3,76.8 406.5,74.3 411.5,74.3 414.5,84.8 419.0,89.8 429.0,93.5 449.0,99.0 459.0,99.0 471.5,97.3 484.0,92.3 499.0,86.0 514.5,79.8"/>
<polyline class="thick" points="99.0,122.3 106.5,123.5 129.0,131.8 139.0,133.0 181.5,132.8"/>
<polyline class="thick" points="99.0,150.3 115.3,149.0 174.0,161.8 250.3,161.8 256.5,159.8 299.0,129.8 311.5,121.0 324.0,113.5 362.8,94.0"/>
<polyline class="thick" points="237.8,173.5 289.0,165.3 299.0,157.3 309.0,143.5 344.0,125.3 374.0,121.0 409.0,116.8 439.0,110.5 459.0,108.5 481.5,108.0 499.0,101.0 506.5,99.8 537.8,101.0"/>
<polyline class="thick" points="306.5,197.3 324.0,187.3 339.0,183.5 369.0,186.8 399.0,181.0 434.0,178.5 449.0,173.5 471.5,167.3 499.0,163.5 519.0,161.0 549.0,153.0 581.5,152.3 604.0,160.5 631.5,171.0 661.5,178.5 703.5,190.4"/>
<polyline class="thick" points="519.0,79.8 531.5,79.8 569.0,74.0 586.5,74.8 604.0,79.8 636.5,88.5 661.5,94.8 684.8,104.5 719.7,115.7 766.0,128.0"/>
<polyline class="thick" points="519.0,84.8 561.5,86.0 574.0,94.8"/>
<polyline class="thick" points="545.3,91.8 574.0,94.8 591.5,98.0 614.0,108.5 644.0,123.5 654.0,126.0 677.4,129.4 709.7,135.6 749.6,147.6"/>
<polyline class="thick" points="510.3,121.5 549.0,127.3 591.5,135.5 604.0,140.5 626.5,142.3 646.5,152.3 661.5,149.8 677.4,140.1 706.0,139.4 726.0,151.8 728.4,156.8 766.0,163.8"/>
<polyline class="thick" points="586.5,41.0 599.0,51.0 634.0,78.5 661.5,93.5"/>
<polyline class="thick" points="639.0,166.8 674.0,165.3 699.8,163.8 724.7,174.3 749.6,189.2 766.0,196.0"/>
<polyline class="thick" points="681.0,161.3 726.0,152.3"/>
<polyline class="thick" points="99.0,263.5 119.0,274.0"/>
<polyline class="thick" points="179.0,274.3 204.0,273.5 231.5,273.5 264.0,276.0 299.0,278.5 349.0,281.8 399.0,286.0 449.0,290.5 499.0,293.5 536.5,293.0 569.0,290.3 609.0,291.8 659.0,295.3 684.8,293.7 704.8,287.0 729.7,273.2"/>
<polyline class="thick" points="99.0,315.3 144.0,310.5 169.0,305.5 207.0,297.3"/>
<polyline class="thick" points="99.0,319.8 151.5,321.5 209.0,319.8"/>
<polyline class="thick" points="227.8,342.8 276.5,324.3 299.0,324.8 356.5,326.8 409.0,337.8 439.0,336.0 489.0,329.8 499.0,328.5 555.3,319.8"/>
<polyline class="thick" points="99.0,337.3 124.0,353.5 149.0,369.8 199.0,394.0 237.0,417.0 287.0,444.0 316.0,465.0 339.0,477.5 362.0,494.0 402.0,514.0"/>
<polyline class="thick" points="597.8,309.8 609.0,328.5 624.0,346.0 649.0,361.0 670.1,376.2 705.5,388.5 730.1,397.0 766.0,407.0"/>
<polyline class="thick" points="639.0,326.0 659.4,345.4 677.8,363.1 711.7,381.6 724.0,394.7 734.7,405.4 751.6,411.6 766.0,416.2"/>
<polyline class="thick" points="491.5,341.6 521.5,354.7 536.9,362.4 543.0,370.0 554.1,387.7 612.5,442.0 671.0,496.3 683.5,514.0"/>
<polyline class="thick" points="723.4,269.5 744.6,261.3 757.0,257.8 766.0,257.0"/>
<polyline class="thick" points="734.6,273.7 766.0,276.5"/>
<polyline class="thick" points="743.4,287.0 752.0,301.9 760.8,316.8 764.5,329.3"/>
<polyline class="thick" points="419.3,377.0 460.0,406.2 499.8,433.6"/>
<polyline class="thick" points="558.4,373.0 570.8,387.7 612.5,414.8 666.8,431.5 695.2,449.0"/>
<polyline class="thick" points="655.3,419.0 739.6,409.4"/>
</g>
<path d="M99.5 514.5 V41.5 H765.5" fill="none" stroke="#b0b0b0" stroke-width="1"/>
<path d="M99 514.5 H765.5 V41.5" fill="none" stroke="#9c9c9c" stroke-width="1"/>
<rect x="50" y="581" width="35" height="15" fill="#ffff00"/>
<rect x="85" y="581" width="35" height="15" fill="#ffe800"/>
<rect x="120" y="581" width="35" height="15" fill="#ffd500"/>
<rect x="155" y="581" width="35" height="15" fill="#ffbf00"/>
<rect x="190" y="581" width="35" height="15" fill="#ffaa00"/>
<rect x="225" y="581" width="35" height="15" fill="#ff9500"/>
<rect x="260" y="581" width="35" height="15" fill="#ff8000"/>
<rect x="295" y="581" width="35" height="15" fill="#fc6400"/>
<rect x="330" y="581" width="35" height="15" fill="#f84600"/>
<rect x="365" y="581" width="35" height="15" fill="#f01e0a"/>
<rect x="400" y="581" width="35" height="15" fill="#d70a05"/>
<rect x="435" y="581" width="35" height="15" fill="#c40804"/>
<rect x="470" y="581" width="35" height="15" fill="#b00603"/>
<rect x="505" y="581" width="35" height="15" fill="#9c0402"/>
<rect x="540" y="581" width="35" height="15" fill="#870301"/>
<rect x="575" y="581" width="35" height="15" fill="#730201"/>
<rect x="610" y="581" width="35" height="15" fill="#5c0000"/>
<rect x="645" y="581" width="35" height="15" fill="#480000"/>
<rect x="680" y="581" width="35" height="15" fill="#300000"/>
<rect x="715" y="581" width="35" height="15" fill="#000000"/>
<rect x="50.5" y="581.5" width="700" height="15" fill="none" stroke="#9a9a9a" stroke-width="1"/>
<line x1="50.5" y1="596" x2="50.5" y2="598.5" stroke="#9a9a9a" stroke-width="1"/>
<line x1="120.5" y1="596" x2="120.5" y2="598.5" stroke="#9a9a9a" stroke-width="1"/>
<line x1="190.5" y1="596" x2="190.5" y2="598.5" stroke="#9a9a9a" stroke-width="1"/>
<line x1="260.5" y1="596" x2="260.5" y2="598.5" stroke="#9a9a9a" stroke-width="1"/>
<line x1="330.5" y1="596" x2="330.5" y2="598.5" stroke="#9a9a9a" stroke-width="1"/>
<line x1="400.5" y1="596" x2="400.5" y2="598.5" stroke="#9a9a9a" stroke-width="1"/>
<line x1="470.5" y1="596" x2="470.5" y2="598.5" stroke="#9a9a9a" stroke-width="1"/>
<line x1="540.5" y1="596" x2="540.5" y2="598.5" stroke="#9a9a9a" stroke-width="1"/>
<line x1="610.5" y1="596" x2="610.5" y2="598.5" stroke="#9a9a9a" stroke-width="1"/>
<line x1="680.5" y1="596" x2="680.5" y2="598.5" stroke="#9a9a9a" stroke-width="1"/>
<line x1="750.5" y1="596" x2="750.5" y2="598.5" stroke="#9a9a9a" stroke-width="1"/>
<g opacity="0.999">
<text x="400.3" y="23.0" font-size="24" text-anchor="middle" font-weight="bold" textLength="289.5" lengthAdjust="spacingAndGlyphs">1 Week M≥3 Forecast</text>
<text x="90.7" y="55.0" font-size="21.8" text-anchor="end" font-weight="normal" textLength="43.5" lengthAdjust="spacingAndGlyphs">34.5</text>
<text x="90.8" y="186.9" font-size="21.8" text-anchor="end" font-weight="normal" textLength="56.0" lengthAdjust="spacingAndGlyphs">34.25</text>
<text x="93.0" y="317.7" font-size="21.8" text-anchor="end" font-weight="normal" textLength="26.0" lengthAdjust="spacingAndGlyphs">34</text>
<text x="90.6" y="450.0" font-size="21.8" text-anchor="end" font-weight="normal" textLength="56.0" lengthAdjust="spacingAndGlyphs">33.75</text>
<text x="214.0" y="537.5" font-size="21.8" text-anchor="middle" font-weight="normal" textLength="76.0" lengthAdjust="spacingAndGlyphs">-119.25</text>
<text x="367.4" y="537.5" font-size="21.8" text-anchor="middle" font-weight="normal" textLength="47.0" lengthAdjust="spacingAndGlyphs">-119</text>
<text x="520.6" y="537.5" font-size="21.8" text-anchor="middle" font-weight="normal" textLength="76.5" lengthAdjust="spacingAndGlyphs">-118.75</text>
<text x="673.8" y="537.5" font-size="21.8" text-anchor="middle" font-weight="normal" textLength="64.0" lengthAdjust="spacingAndGlyphs">-118.5</text>
<text x="432.6" y="568.5" font-size="23" text-anchor="middle" font-weight="normal" textLength="110.5" lengthAdjust="spacingAndGlyphs">Longitude</text>
<text x="400.4" y="649.0" font-size="23" text-anchor="middle" font-weight="normal" textLength="347.0" lengthAdjust="spacingAndGlyphs">Log10 Probability M≥3, 1 Week</text>
<text x="-277.3" y="25.5" font-size="23" text-anchor="middle" font-weight="normal" textLength="88.5" lengthAdjust="spacingAndGlyphs" transform="rotate(-90)">Latitude</text>
<text x="49.6" y="619.3" font-size="21.8" text-anchor="middle" font-weight="normal" textLength="37.0" lengthAdjust="spacingAndGlyphs">-5.0</text>
<text x="119.7" y="619.3" font-size="21.8" text-anchor="middle" font-weight="normal" textLength="37.0" lengthAdjust="spacingAndGlyphs">-4.5</text>
<text x="189.7" y="619.3" font-size="21.8" text-anchor="middle" font-weight="normal" textLength="37.0" lengthAdjust="spacingAndGlyphs">-4.0</text>
<text x="259.7" y="619.3" font-size="21.8" text-anchor="middle" font-weight="normal" textLength="37.0" lengthAdjust="spacingAndGlyphs">-3.5</text>
<text x="329.7" y="619.3" font-size="21.8" text-anchor="middle" font-weight="normal" textLength="37.0" lengthAdjust="spacingAndGlyphs">-3.0</text>
<text x="399.7" y="619.3" font-size="21.8" text-anchor="middle" font-weight="normal" textLength="37.0" lengthAdjust="spacingAndGlyphs">-2.5</text>
<text x="469.7" y="619.3" font-size="21.8" text-anchor="middle" font-weight="normal" textLength="37.0" lengthAdjust="spacingAndGlyphs">-2.0</text>
<text x="539.7" y="619.3" font-size="21.8" text-anchor="middle" font-weight="normal" textLength="37.0" lengthAdjust="spacingAndGlyphs">-1.5</text>
<text x="609.7" y="619.3" font-size="21.8" text-anchor="middle" font-weight="normal" textLength="37.0" lengthAdjust="spacingAndGlyphs">-1.0</text>
<text x="679.7" y="619.3" font-size="21.8" text-anchor="middle" font-weight="normal" textLength="37.0" lengthAdjust="spacingAndGlyphs">-0.5</text>
<text x="749.2" y="619.3" font-size="21.8" text-anchor="middle" font-weight="normal" textLength="30.0" lengthAdjust="spacingAndGlyphs">0.0</text>
</g>
</svg>
</body></html>
